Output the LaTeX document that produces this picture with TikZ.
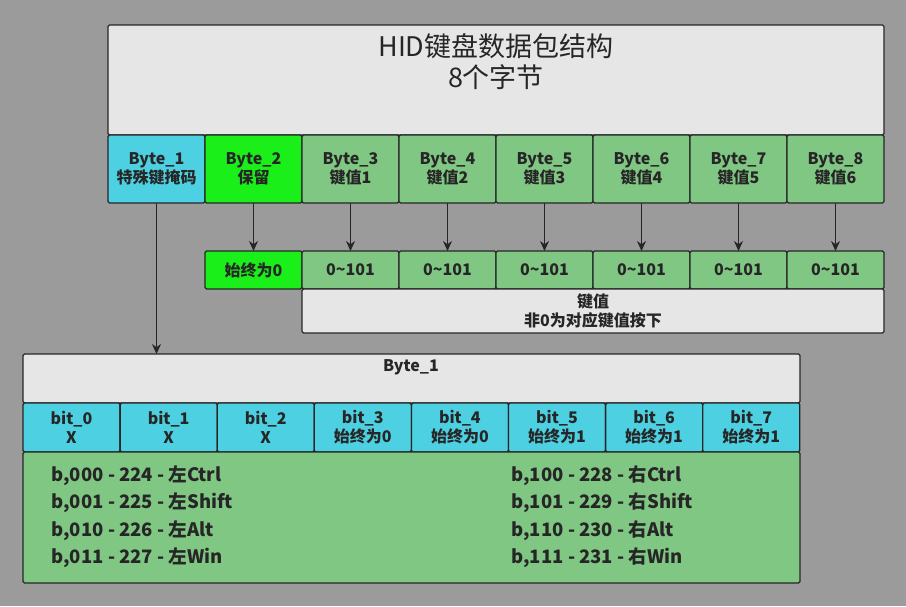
\documentclass[tikz,border=0pt]{standalone}
\usepackage{fontspec}
\setmainfont{Noto Sans CJK SC}
\usetikzlibrary{arrows.meta}
\definecolor{bg}{HTML}{9B9B9B}
\definecolor{lg}{HTML}{E6E6E6}
\definecolor{cy}{HTML}{4DD0E1}
\definecolor{gr}{HTML}{81C784}
\definecolor{bgr}{HTML}{1AEF1A}
\begin{document}
\begin{tikzpicture}[x=1pt,y=-1pt,
 bx/.style={draw=black!85,line width=1.3pt,rounded corners=1.5pt},
 lbl/.style={font=\bfseries\fontsize{16}{19}\selectfont,align=center,text=black!85},
 arr/.style={-{Stealth[length=10pt,width=9pt]},line width=1.3pt,draw=black!85}]
\fill[bg] (0,0) rectangle (906,606);
\useasboundingbox (0,0) rectangle (906,606);
% title
\draw[bx,fill=lg] (108,25) rectangle (884,135);
\node[align=center,font=\fontsize{27}{31}\selectfont,text=black!85] (title) at (496,62) {HID键盘数据包结构\\8个字节};
% bytes
\foreach \i/\t in {1/特殊键掩码,2/保留,3/键值1,4/键值2,5/键值3,6/键值4,7/键值5,8/键值6}{
  \pgfmathsetmacro\xa{108+(\i-1)*97}
  \pgfmathsetmacro\col{\i==1?"cy":(\i==2?"bgr":"gr")}
  \draw[bx,fill=\col] (\xa,135) rectangle ++(97,68);
  \node[lbl] (b\i) at (\xa+48.5,169) {Byte\_\i\\\t};
  \coordinate (bb\i) at (\xa+48.5,203);
}
% row 2
\draw[bx,fill=bgr] (205,251) rectangle ++(97,38);
\node[lbl] (v2) at (253.5,270) {始终为0};
\foreach \i in {3,...,8}{
  \pgfmathsetmacro\xa{108+(\i-1)*97}
  \draw[bx,fill=gr] (\xa,251) rectangle ++(97,38);
  \node[lbl] (v\i) at (\xa+48.5,270) {0\textasciitilde101};
  \coordinate (vt\i) at (\xa+48.5,251);
}
\coordinate (vt2) at (253.5,251);
\foreach \i in {2,...,8}{\draw[arr] (bb\i) -- (vt\i);}
\draw[bx,fill=lg] (302,289) rectangle (884,333);
\node[lbl] (kv) at (593,311) {键值\\非0为对应键值按下};
% Byte_1 detail
\draw[bx,fill=lg] (23,354) rectangle (800,403);
\node[lbl] (bt) at (411,367) {Byte\_1};
\coordinate (bt1) at (156.5,354);
\draw[arr] (bb1) -- (bt1);
\foreach \i/\t in {0/X,1/X,2/X,3/始终为0,4/始终为0,5/始终为1,6/始终为1,7/始终为1}{
  \pgfmathsetmacro\xa{23+\i*97.1}
  \draw[bx,fill=cy] (\xa,403) rectangle ++(97.1,49);
  \node[lbl] (bit\i) at (\xa+48.5,427) {bit\_\i\\\t};
}
\draw[bx,fill=gr] (23,452) rectangle (800,583);
\node[lbl,align=left,anchor=north west,font=\bfseries\fontsize{18.5}{27.5}\selectfont] (l) at (48,462) {b,000 - 224 - 左Ctrl\\b,001 - 225 - 左Shift\\b,010 - 226 - 左Alt\\b,011 - 227 - 左Win};
\node[lbl,align=left,anchor=north west,font=\bfseries\fontsize{18.5}{27.5}\selectfont] (r) at (508,462) {b,100 - 228 - 右Ctrl\\b,101 - 229 - 右Shift\\b,110 - 230 - 右Alt\\b,111 - 231 - 右Win};
\end{tikzpicture}
\end{document}
